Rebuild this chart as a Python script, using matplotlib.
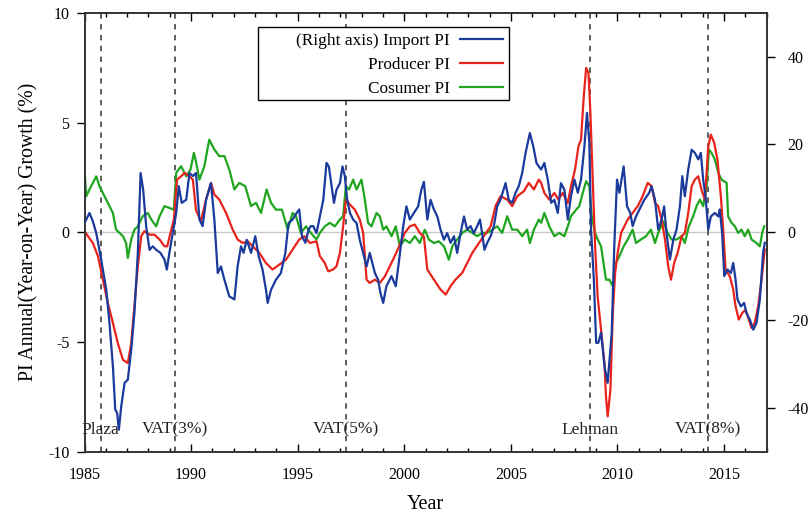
import matplotlib
matplotlib.use("Agg")
import matplotlib.pyplot as plt
from matplotlib.patches import Rectangle
from matplotlib.ticker import MultipleLocator

plt.rcParams['font.family'] = ['Liberation Serif', 'DejaVu Serif']
plt.rcParams['axes.unicode_minus'] = False

# Import price index, YoY % (right axis)
import_t = [1985.00, 1985.23, 1985.39, 1985.55, 1985.78, 1986.02, 1986.17, 1986.33, 1986.44, 1986.53,
            1986.61, 1986.72, 1986.88, 1987.03, 1987.19, 1987.34, 1987.50, 1987.63, 1987.75, 1987.89,
            1988.05, 1988.20, 1988.36, 1988.56, 1988.75, 1988.86, 1988.98, 1989.14, 1989.30, 1989.42,
            1989.56, 1989.77, 1989.92, 1990.08, 1990.23, 1990.39, 1990.54, 1990.70, 1990.93, 1991.09,
            1991.25, 1991.40, 1991.56, 1991.79, 1992.03, 1992.18, 1992.34, 1992.46, 1992.61, 1992.81,
            1993.01, 1993.17, 1993.35, 1993.51, 1993.59, 1993.75, 1993.98, 1994.21, 1994.42, 1994.57,
            1994.76, 1994.95, 1995.07, 1995.20, 1995.36, 1995.51, 1995.62, 1995.73, 1995.88, 1996.04,
            1996.20, 1996.35, 1996.46, 1996.59, 1996.70, 1996.82, 1996.98, 1997.10, 1997.21, 1997.32,
            1997.45, 1997.60, 1997.76, 1997.91, 1998.07, 1998.23, 1998.38, 1998.62, 1998.77, 1998.88,
            1999.01, 1999.16, 1999.40, 1999.60, 1999.76, 1999.95, 2000.10, 2000.26, 2000.45, 2000.65,
            2000.80, 2000.92, 2001.08, 2001.23, 2001.39, 2001.55, 2001.70, 2001.86, 2002.01, 2002.17,
            2002.33, 2002.48, 2002.64, 2002.80, 2002.95, 2003.11, 2003.26, 2003.42, 2003.55, 2003.65,
            2003.76, 2003.89, 2004.05, 2004.20, 2004.36, 2004.51, 2004.75, 2004.90, 2005.06, 2005.22,
            2005.37, 2005.53, 2005.69, 2005.89, 2006.05, 2006.20, 2006.31, 2006.42, 2006.57, 2006.73,
            2006.89, 2007.04, 2007.20, 2007.35, 2007.51, 2007.67, 2007.82, 2007.98, 2008.14, 2008.29,
            2008.45, 2008.57, 2008.68, 2008.76, 2008.89, 2009.00, 2009.10, 2009.23, 2009.39, 2009.54,
            2009.73, 2009.85, 2009.98, 2010.09, 2010.29, 2010.45, 2010.60, 2010.71, 2010.87, 2011.03,
            2011.26, 2011.49, 2011.60, 2011.76, 2011.91, 2012.07, 2012.19, 2012.30, 2012.46, 2012.62,
            2012.77, 2012.93, 2013.04, 2013.16, 2013.32, 2013.48, 2013.63, 2013.79, 2013.91, 2014.02,
            2014.13, 2014.26, 2014.38, 2014.57, 2014.73, 2014.80, 2014.91, 2015.01, 2015.16, 2015.32,
            2015.43, 2015.54, 2015.63, 2015.79, 2015.94, 2016.05, 2016.21, 2016.37, 2016.52, 2016.68,
            2016.83, 2016.91]
import_v = [2.1, 4.4, 2.5, -0.2, -6.2, -13.1, -20.7, -30.5, -40.4, -41.2,
            -45.0, -39.7, -34.3, -33.6, -26.7, -18.4, -4.7, 13.5, 9.7, 1.4,
            -4.0, -3.2, -4.0, -4.7, -6.2, -8.5, -4.7, -0.2, 4.4, 10.5,
            6.7, 7.4, 13.5, 12.8, 13.5, 2.9, 1.4, 7.4, 11.2, 2.9,
            -9.3, -7.8, -10.8, -14.6, -15.3, -7.8, -3.2, -4.7, -1.7, -4.7,
            -0.9, -5.5, -8.5, -13.1, -16.1, -13.1, -10.8, -9.3, -4.7, 2.1,
            2.9, 4.4, 5.2, -0.9, -2.4, 0.6, 1.4, 1.4, -0.2, 3.6,
            7.4, 15.8, 15.0, 10.5, 6.7, 9.7, 11.2, 15.0, 12.8, 7.4,
            4.4, 2.9, 2.1, -1.7, -4.7, -7.8, -4.7, -9.3, -10.8, -13.8,
            -16.1, -12.3, -10.0, -12.3, -6.2, 1.4, 5.9, 2.9, 4.4, 5.9,
            9.7, 11.5, 2.9, 7.4, 5.2, 3.6, 0.6, -1.7, -0.2, -2.4,
            -0.9, -4.7, -0.2, 3.6, 0.6, 1.4, -0.2, 1.4, 2.9, -0.2,
            -4.0, -2.4, -0.9, 1.4, 5.9, 7.4, 11.2, 7.4, 6.7, 9.0,
            10.5, 13.5, 18.1, 22.6, 19.6, 15.8, 15.0, 14.3, 15.8, 12.0,
            6.7, 7.4, 4.4, 11.2, 9.7, 2.9, 8.2, 12.0, 9.0, 12.0,
            19.6, 27.2, 20.4, 0.6, -10.6, -25.2, -25.2, -22.9, -30.5, -34.3,
            -22.9, -3.2, 12.0, 9.0, 15.0, 5.9, 4.4, 1.4, 3.6, 5.2,
            7.4, 9.0, 10.5, 7.4, 0.6, 2.9, 5.9, -0.2, -6.2, -1.7,
            0.6, 5.9, 12.8, 8.2, 14.3, 18.8, 18.1, 16.6, 18.1, 12.0,
            8.2, 0.6, 3.6, 4.4, 3.6, 5.2, -0.2, -10.0, -8.5, -9.3,
            -7.0, -10.8, -15.3, -16.9, -16.1, -18.4, -19.9, -22.2, -20.7, -15.3,
            -4.7, -2.4]

# Producer price index, YoY % (left axis)
producer_t = [1985.00, 1985.16, 1985.39, 1985.63, 1985.86, 1986.09, 1986.33, 1986.56, 1986.80, 1987.03,
              1987.19, 1987.34, 1987.50, 1987.66, 1987.81, 1988.05, 1988.28, 1988.52, 1988.75, 1988.88,
              1989.03, 1989.19, 1989.34, 1989.53, 1989.69, 1989.92, 1990.08, 1990.23, 1990.46, 1990.70,
              1990.93, 1991.09, 1991.32, 1991.64, 1991.95, 1992.18, 1992.42, 1992.65, 1992.89, 1993.20,
              1993.51, 1993.82, 1994.14, 1994.45, 1994.76, 1995.07, 1995.31, 1995.57, 1995.88, 1996.04,
              1996.27, 1996.43, 1996.66, 1996.82, 1996.98, 1997.13, 1997.26, 1997.45, 1997.68, 1997.91,
              1998.07, 1998.23, 1998.38, 1998.62, 1998.85, 1999.09, 1999.32, 1999.55, 1999.76, 2000.02,
              2000.26, 2000.49, 2000.73, 2000.92, 2001.08, 2001.39, 2001.70, 2001.94, 2002.17, 2002.40,
              2002.72, 2002.95, 2003.19, 2003.50, 2003.73, 2004.05, 2004.28, 2004.51, 2004.83, 2005.06,
              2005.30, 2005.61, 2005.84, 2006.08, 2006.31, 2006.42, 2006.57, 2006.80, 2007.04, 2007.23,
              2007.43, 2007.67, 2007.82, 2008.01, 2008.17, 2008.29, 2008.42, 2008.53, 2008.64, 2008.73,
              2008.84, 2008.95, 2009.07, 2009.23, 2009.39, 2009.46, 2009.54, 2009.67, 2009.78, 2009.89,
              2010.01, 2010.17, 2010.32, 2010.48, 2010.71, 2010.95, 2011.18, 2011.42, 2011.60, 2011.76,
              2011.91, 2012.07, 2012.23, 2012.38, 2012.51, 2012.66, 2012.82, 2013.01, 2013.16, 2013.32,
              2013.48, 2013.63, 2013.79, 2013.94, 2014.10, 2014.26, 2014.38, 2014.54, 2014.69, 2014.85,
              2014.96, 2015.07, 2015.27, 2015.43, 2015.54, 2015.69, 2015.85, 2016.01, 2016.16, 2016.29,
              2016.44, 2016.60, 2016.76, 2016.91]
producer_v = [0.05, -0.18, -0.49, -1.09, -2.16, -3.22, -4.13, -5.05, -5.81, -5.96,
              -5.05, -3.37, -1.55, -0.18, 0.05, -0.11, -0.11, -0.33, -0.64, -0.64,
              -0.03, 0.58, 2.40, 2.55, 2.71, 2.55, 2.40, 1.00, 0.50, 1.49,
              2.25, 1.72, 1.49, 0.88, 0.12, -0.33, -0.49, -0.41, -0.64, -0.94,
              -1.40, -1.70, -1.47, -1.25, -0.79, -0.33, -0.18, -0.49, -0.41, -1.09,
              -1.40, -1.78, -1.70, -1.55, -0.94, 0.27, 1.49, 1.26, 1.03, 0.58,
              -0.03, -2.16, -2.31, -2.16, -2.31, -2.01, -1.55, -1.09, -0.64, -0.03,
              0.27, 0.35, -0.03, -0.20, -1.70, -2.16, -2.61, -2.84, -2.46, -2.16,
              -1.85, -1.40, -0.94, -0.49, -0.18, 0.27, 1.19, 1.64, 1.49, 1.19,
              1.64, 1.87, 2.25, 1.95, 2.40, 2.25, 1.79, 1.49, 1.79, 1.49,
              1.79, 1.34, 2.10, 2.86, 3.92, 4.22, 6.20, 7.49, 7.26, 5.44,
              2.40, -0.64, -2.92, -4.44, -5.96, -7.48, -8.39, -7.17, -3.68, -1.85,
              -0.94, -0.03, 0.27, 0.58, 0.88, 1.19, 1.64, 2.25, 2.10, 1.34,
              1.19, 0.58, -0.33, -1.55, -2.16, -1.40, -0.94, -0.18, -0.03, 0.88,
              2.10, 2.40, 2.55, 1.95, 1.49, 3.92, 4.45, 4.07, 3.31, 1.64,
              0.12, -1.70, -2.01, -2.61, -3.37, -3.98, -3.68, -3.53, -3.98, -4.36,
              -4.13, -3.37, -2.16, -0.79]

# Consumer price index, YoY % (left axis)
consumer_t = [1985.00, 1985.08, 1985.23, 1985.39, 1985.55, 1985.70, 1985.86, 1986.02, 1986.17, 1986.33,
              1986.48, 1986.64, 1986.80, 1986.95, 1987.03, 1987.19, 1987.34, 1987.50, 1987.73, 1987.97,
              1988.13, 1988.36, 1988.52, 1988.75, 1988.98, 1989.19, 1989.30, 1989.53, 1989.77, 1989.97,
              1990.13, 1990.23, 1990.39, 1990.62, 1990.85, 1991.09, 1991.32, 1991.56, 1991.79, 1992.03,
              1992.26, 1992.54, 1992.81, 1993.04, 1993.28, 1993.54, 1993.75, 1993.98, 1994.26, 1994.53,
              1994.76, 1994.92, 1995.15, 1995.39, 1995.62, 1995.88, 1996.04, 1996.27, 1996.51, 1996.74,
              1996.98, 1997.13, 1997.26, 1997.41, 1997.60, 1997.76, 1997.99, 1998.15, 1998.30, 1998.46,
              1998.70, 1998.85, 1999.01, 1999.16, 1999.40, 1999.60, 1999.79, 2000.02, 2000.26, 2000.49,
              2000.73, 2000.96, 2001.15, 2001.39, 2001.62, 2001.86, 2002.09, 2002.25, 2002.48, 2002.72,
              2002.95, 2003.19, 2003.42, 2003.65, 2003.89, 2004.12, 2004.36, 2004.59, 2004.83, 2005.06,
              2005.30, 2005.53, 2005.76, 2005.89, 2006.08, 2006.31, 2006.42, 2006.57, 2006.80, 2007.04,
              2007.27, 2007.51, 2007.67, 2007.82, 2008.06, 2008.21, 2008.37, 2008.53, 2008.68, 2008.79,
              2008.95, 2009.07, 2009.23, 2009.46, 2009.62, 2009.78, 2009.93, 2010.09, 2010.29, 2010.48,
              2010.71, 2010.87, 2011.10, 2011.34, 2011.57, 2011.76, 2011.91, 2012.15, 2012.35, 2012.54,
              2012.77, 2013.01, 2013.16, 2013.35, 2013.55, 2013.71, 2013.87, 2014.02, 2014.18, 2014.29,
              2014.41, 2014.57, 2014.73, 2014.88, 2015.12, 2015.19, 2015.35, 2015.51, 2015.66, 2015.82,
              2015.97, 2016.13, 2016.29, 2016.52, 2016.68, 2016.79, 2016.88]
consumer_v = [2.86, 1.64, 1.95, 2.25, 2.55, 2.10, 1.79, 1.49, 1.19, 0.88,
              0.12, -0.03, -0.18, -0.49, -1.17, -0.33, 0.12, 0.27, 0.73, 0.88,
              0.58, 0.27, 0.73, 1.19, 1.11, 1.03, 2.71, 3.01, 2.55, 2.86,
              3.62, 3.20, 2.40, 3.01, 4.22, 3.77, 3.47, 3.47, 2.86, 1.95,
              2.25, 2.10, 1.19, 1.34, 0.88, 1.95, 1.34, 1.03, 1.03, 0.12,
              0.88, 0.73, -0.03, 0.27, -0.03, -0.33, -0.03, 0.27, 0.43, 0.27,
              0.58, 0.73, 2.10, 1.95, 2.40, 1.95, 2.40, 1.49, 0.43, 0.27,
              0.88, 0.73, 0.12, 0.27, -0.18, 0.27, -0.64, -0.33, -0.49, -0.18,
              -0.49, 0.12, -0.33, -0.49, -0.41, -0.64, -1.25, -0.64, -0.33, -0.03,
              0.12, -0.03, -0.18, -0.03, -0.03, 0.12, 0.27, -0.03, 0.73, 0.12,
              0.12, -0.18, 0.12, -0.49, 0.12, 0.58, 0.43, 0.88, 0.27, -0.18,
              -0.03, -0.18, 0.27, 0.73, 1.03, 1.19, 1.79, 2.33, 2.10, 0.73,
              -0.03, -0.33, -0.64, -2.16, -2.16, -2.46, -1.40, -1.09, -0.64, -0.33,
              0.12, -0.49, -0.33, -0.18, 0.12, -0.49, -0.03, 0.50, -0.03, -0.33,
              -0.33, -0.18, -0.49, 0.27, 0.73, 1.19, 1.49, 1.19, 2.10, 3.77,
              3.62, 3.31, 2.71, 2.40, 2.25, 0.73, 0.43, 0.27, -0.03, 0.12,
              -0.18, 0.12, -0.33, -0.49, -0.64, -0.03, 0.27]

# Events marked with dashed lines
event_years = [1985.75, 1989.25, 1997.25, 2008.7, 2014.25]
event_labels = ['Plaza', 'VAT(3%)', 'VAT(5%)', 'Lehman', 'VAT(8%)']

fig = plt.figure(figsize=(8.09, 5.13), dpi=100)
ax = fig.add_axes([0.1045, 0.1195, 0.8432, 0.8555])
ax2 = ax.twinx()

ax.axhline(0, color='#c8c8c8', linewidth=1, zorder=1)
for yr, lab in zip(event_years, event_labels):
    ax.axvline(yr, color='#505050', linestyle=(0, (3, 3)), linewidth=1.3, zorder=1)
    ax.text(yr, -9.0, lab, ha='center', va='center', fontsize=12.5, color='#222222')

red, = ax.plot(producer_t, producer_v, color='#e8231c', linewidth=1.6, label='Producer PI', zorder=3)
green, = ax.plot(consumer_t, consumer_v, color='#1fa51f', linewidth=1.6, label='Cosumer PI', zorder=2)
blue, = ax2.plot(import_t, import_v, color='#1a3a9c', linewidth=1.6, label='(Right axis) Import PI', zorder=3)

ax.set_xlim(1985, 2017)
ax.set_ylim(-10, 10)
ax2.set_ylim(-50, 50)

ax.xaxis.set_major_locator(MultipleLocator(5))
ax.xaxis.set_minor_locator(MultipleLocator(1))
ax.set_yticks([-10, -5, 0, 5, 10])
ax2.set_yticks([-40, -20, 0, 20, 40])

ax.tick_params(axis='x', which='both', direction='in', top=True, labelsize=11.5, pad=11)
ax.tick_params(axis='x', which='major', length=6, width=1)
ax.tick_params(axis='x', which='minor', length=3, width=1)
ax.tick_params(axis='y', which='major', direction='out', length=6, width=1, labelsize=11.5, pad=5)
ax2.tick_params(axis='y', which='major', direction='out', length=6, width=1, labelsize=11.5, pad=9)

for a in (ax, ax2):
    for s in a.spines.values():
        s.set_linewidth(1.2)
        s.set_color('#333333')

ax.set_xlabel('Year', fontsize=14.5, labelpad=9)
ax.set_ylabel('PI Annual(Year-on-Year) Growth (%)', fontsize=14.2, labelpad=7)

# legend frame is drawn separately so the right-aligned entries leave space on the left
ax2.add_patch(Rectangle((0.254, 0.802), 0.368, 0.166, transform=ax2.transAxes,
                        facecolor='white', edgecolor='black', linewidth=1.0, zorder=4))
leg = ax2.legend([blue, red, green],
                 ['(Right axis) Import PI', 'Producer PI', 'Cosumer PI'],
                 loc='upper right', bbox_to_anchor=(0.622, 0.968), borderaxespad=0,
                 markerfirst=False, handlelength=2.5, handletextpad=0.6, fontsize=12.4,
                 frameon=False, labelspacing=0.45, borderpad=0.35)
leg.set_zorder(5)
for t in leg.get_texts():
    t.set_ha('right')
leg._legend_box.align = 'right'

fig.savefig('out.png', dpi=100)
